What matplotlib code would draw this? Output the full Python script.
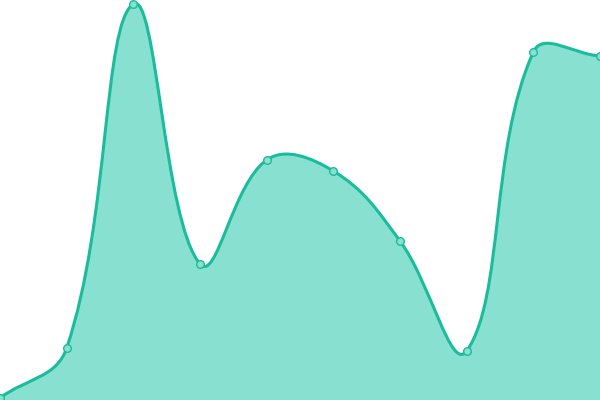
import matplotlib
matplotlib.use("Agg")
import matplotlib.pyplot as plt
from matplotlib.path import Path
from matplotlib.patches import PathPatch
import numpy as np

# values (0..400 scale)
labels = list(range(10))
values = [2, 52, 396, 136, 240, 229, 159, 49, 348, 344]

line_col = "#1abc9c"
fill_col = "#88e0d0"

fig = plt.figure(figsize=(6, 4), dpi=100)
ax = fig.add_axes([0, 0, 1, 1])
ax.set_xlim(0, len(labels) - 1)
ax.set_ylim(0, 400)
ax.axis("off")

# chart.js style spline (tension 0.4), computed in pixel space
pts = ax.transData.transform(np.column_stack([labels, values]).astype(float))
t = 0.4
n = len(pts)
cp_prev = pts.copy()
cp_next = pts.copy()
for i in range(n):
    prev = pts[i - 1] if i > 0 else pts[i]
    nxt = pts[i + 1] if i < n - 1 else pts[i]
    d01 = np.hypot(*(pts[i] - prev))
    d12 = np.hypot(*(nxt - pts[i]))
    tot = d01 + d12
    s01 = d01 / tot if tot else 0
    s12 = d12 / tot if tot else 0
    cp_prev[i] = pts[i] - t * s01 * (nxt - prev)
    cp_next[i] = pts[i] + t * s12 * (nxt - prev)

inv = ax.transData.inverted()
verts = [pts[0]]
codes = [Path.MOVETO]
for i in range(n - 1):
    verts += [cp_next[i], cp_prev[i + 1], pts[i + 1]]
    codes += [Path.CURVE4] * 3
verts = inv.transform(np.array(verts))

line_path = Path(verts, codes)
fill_verts = np.vstack([verts, [[labels[-1], 0], [labels[0], 0], verts[0]]])
fill_codes = codes + [Path.LINETO, Path.LINETO, Path.CLOSEPOLY]
ax.add_patch(PathPatch(Path(fill_verts, fill_codes), facecolor=fill_col, edgecolor="none"))
ax.add_patch(PathPatch(line_path, facecolor="none", edgecolor=line_col, lw=2.2,
                       capstyle="round", joinstyle="round"))

ax.plot(labels, values, "o", ms=5.5, mfc=fill_col, mec=line_col, mew=1, clip_on=False)

fig.savefig("out.png", dpi=100)
